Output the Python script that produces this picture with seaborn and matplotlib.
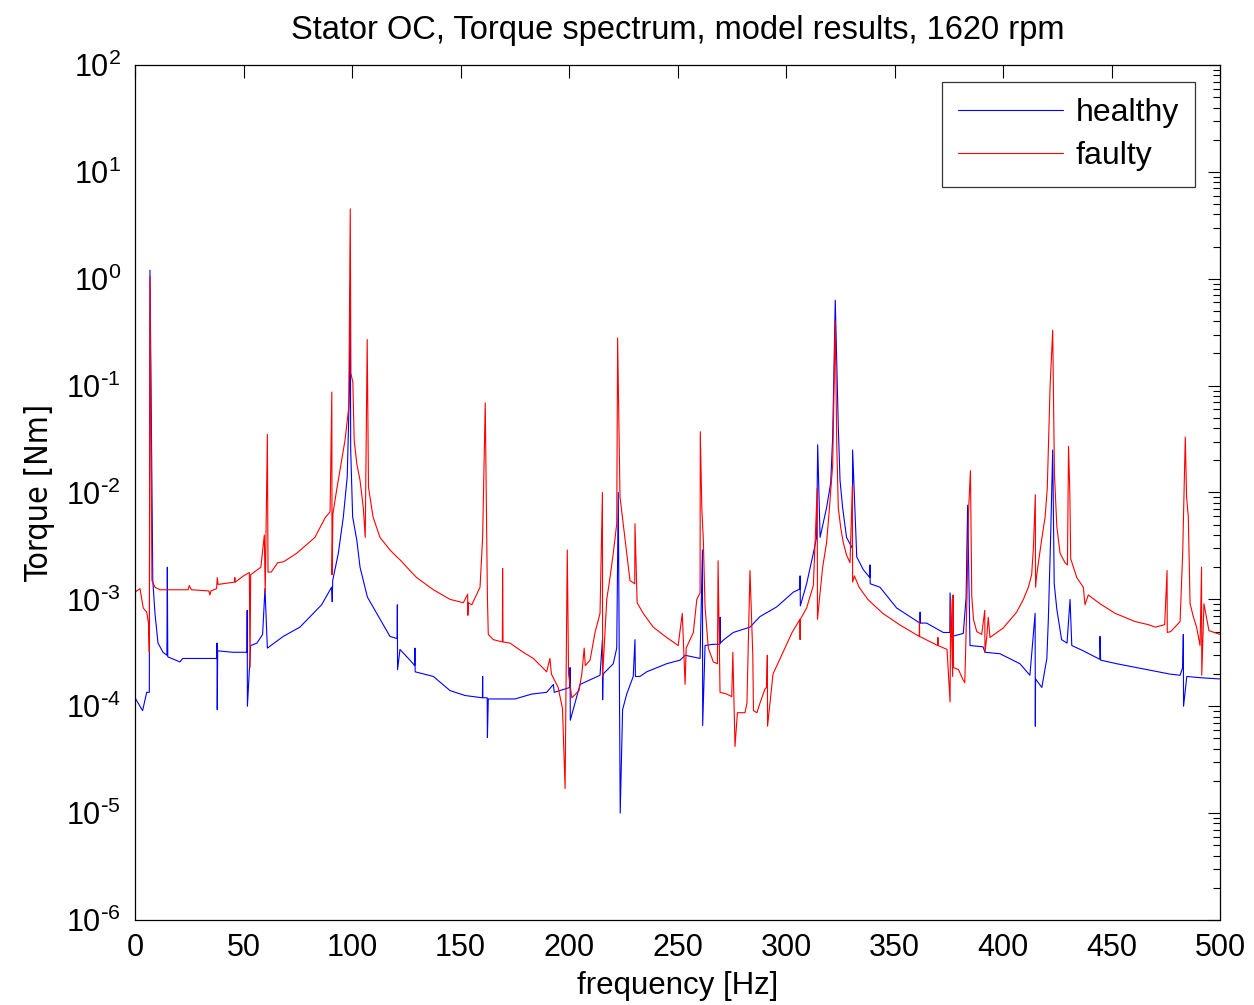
import matplotlib
matplotlib.use("Agg")
import matplotlib.pyplot as plt
import matplotlib.ticker as mticker
import numpy as np
import pandas as pd
import seaborn as sns

# Healthy machine torque spectrum (frequency in Hz, amplitude in Nm)
healthy_freq = [
    0.0, 3.5, 5.4, 6.6, 6.9, 8.2, 9.2, 10.6, 12.9, 14.7, 14.9, 15.1, 20.7, 22.0,
    37.6, 37.8, 37.9, 38.1, 45.0, 51.6, 51.7, 51.8, 53.3, 56.2, 58.8, 59.9, 61.0,
    68.3, 76.0, 86.0, 90.6, 90.9, 91.1, 93.7, 96.0, 97.8, 98.8, 99.2, 99.4, 100.3,
    102.2, 103.7, 107.1, 111.4, 117.5, 120.8, 120.9, 121.0, 122.1, 126.7, 128.9,
    129.0, 129.1, 137.5, 145.2, 152.1, 160.1, 160.2, 160.3, 162.3, 162.4, 162.8,
    175.1, 182.8, 189.7, 192.8, 193.2, 200.4, 200.5, 200.6, 205.1, 214.3, 215.4,
    215.5, 215.7, 220.4, 222.0, 222.7, 223.6, 224.7, 226.6, 229.6, 230.4, 230.6,
    232.7, 235.8, 245.0, 251.2, 253.5, 260.4, 261.5, 261.6, 262.7, 266.4, 269.5,
    269.6, 269.7, 271.4, 275.7, 283.4, 288.0, 295.7, 303.4, 306.4, 306.5, 306.6,
    309.5, 312.6, 314.1, 314.6, 315.7, 318.7, 320.6, 321.5, 322.7, 324.1, 324.9,
    326.1, 327.9, 330.6, 330.7, 332.6, 335.6, 338.6, 338.7, 338.8, 343.3, 351.0,
    357.1, 361.7, 361.8, 361.9, 364.8, 371.0, 372.5, 375.5, 375.6, 376.4, 381.7,
    383.0, 383.7, 384.8, 390.8, 391.7, 398.6, 407.8, 412.4, 414.8, 414.9, 415.0,
    417.9, 420.2, 420.9, 422.0, 422.9, 423.6, 424.8, 427.0, 429.5, 430.9, 431.7,
    437.0, 444.6, 444.7, 445.0, 452.4, 461.6, 476.9, 481.6, 482.8, 483.1, 483.2,
    484.7, 490.8, 500.0,
]
healthy_torque = [
    1.2e-4, 9.1e-5, 1.35e-4, 1.35e-4, 1.2, 1.5e-3, 7.4e-4, 3.9e-4, 3.2e-4, 3.0e-4, 2.0e-3, 2.9e-4, 2.6e-4, 2.8e-4,
    2.8e-4, 3.9e-4, 9.3e-5, 3.3e-4, 3.2e-4, 3.2e-4, 7.9e-4, 1.0e-4, 3.7e-4, 3.9e-4, 4.7e-4, 1.26e-3, 3.5e-4,
    4.5e-4, 5.5e-4, 8.9e-4, 1.3e-3, 9.5e-4, 1.5e-3, 2.7e-3, 5.9e-3, 1.4e-2, 9.1e-2, 0.87, 2.5e-2, 5.9e-3,
    3.6e-3, 2.0e-3, 1.05e-3, 7.4e-4, 4.5e-4, 4.3e-4, 8.9e-4, 2.2e-4, 3.4e-4, 2.7e-4, 2.4e-4,
    3.5e-4, 2.1e-4, 1.9e-4, 1.4e-4, 1.26e-4, 1.2e-4, 1.9e-4, 1.2e-4, 1.2e-4, 5.1e-5, 1.17e-4,
    1.17e-4, 1.3e-4, 1.35e-4, 1.6e-4, 1.35e-4, 1.5e-4, 2.3e-4, 7.4e-5, 1.6e-4, 1.95e-4, 4.2e-4,
    1.15e-4, 2.0e-4, 2.5e-4, 3.5e-4, 1.0e-2, 1.0e-5, 9.3e-5, 1.3e-4, 1.9e-4, 4.2e-4, 1.9e-4,
    1.9e-4, 2.1e-4, 2.5e-4, 2.7e-4, 3.0e-4, 2.8e-4, 2.9e-3, 6.6e-5, 3.7e-4, 3.8e-4, 3.8e-4,
    6.8e-4, 3.9e-4, 4.2e-4, 4.9e-4, 5.5e-4, 6.9e-4, 8.5e-4, 1.17e-3, 1.25e-3, 1.66e-3, 8.7e-4,
    1.4e-3, 2.7e-3, 3.8e-3, 2.8e-2, 3.8e-3, 7.2e-3, 1.23e-2, 3.3e-2, 0.63, 4.1e-2, 1.3e-2,
    7.2e-3, 3.8e-3, 3.0e-3, 2.5e-2, 2.5e-3, 1.9e-3, 1.6e-3, 2.1e-3, 1.4e-3, 1.3e-3, 8.3e-4,
    6.9e-4, 6.0e-4, 7.6e-4, 6.0e-4, 6.0e-4, 5.1e-4, 4.9e-4, 4.9e-4, 1.15e-3, 4.5e-4, 4.8e-4,
    1.05e-3, 7.6e-3, 3.7e-4, 3.6e-4, 3.2e-4, 3.1e-4, 2.5e-4, 1.95e-4, 7.4e-4, 6.5e-5, 1.8e-4,
    1.5e-4, 2.8e-4, 6.5e-4, 4.2e-3, 2.5e-2, 1.4e-3, 8.1e-4, 4.2e-4, 3.9e-4, 1.0e-3, 3.7e-4,
    3.3e-4, 2.75e-4, 4.5e-4, 2.7e-4, 2.5e-4, 2.3e-4, 2.0e-4, 1.95e-4, 2.3e-4, 4.7e-4, 1.0e-4,
    1.9e-4, 1.85e-4, 1.8e-4,
]

# Machine with stator open-circuit fault
faulty_freq = [
    0.0, 2.3, 3.8, 5.4, 6.2, 6.6, 6.9, 7.8, 9.2, 11.5, 24.5, 25.0, 26.0, 34.0, 34.5,
    35.0, 37.6, 37.9, 38.3, 45.8, 46.0, 46.2, 50.0, 52.7, 53.0, 53.3, 58.0, 59.6, 60.0,
    61.0, 61.3, 62.8, 65.7, 68.5, 74.5, 82.9, 87.6, 89.9, 90.7, 90.8, 91.2, 92.9,
    95.2, 96.8, 98.5, 99.2, 99.5, 100.4, 101.0, 102.2, 103.7, 105.2, 106.1, 107.0,
    107.6, 109.7, 112.9, 117.5, 120.6, 122.1, 126.7, 129.8, 137.5, 145.2, 151.3,
    153.3, 153.4, 153.6, 155.2, 159.0, 160.2, 161.4, 162.4, 162.8, 165.1, 169.3,
    169.4, 169.6, 172.8, 178.9, 183.6, 189.7, 191.2, 191.9, 195.0, 197.0, 198.2,
    199.2, 199.8, 201.3, 204.6, 205.9, 207.0, 207.5, 209.7, 212.0, 214.3, 215.4,
    215.5, 217.4, 218.9, 220.4, 222.0, 222.4, 223.5, 225.0, 226.6, 228.1, 230.3,
    230.4, 231.4, 234.2, 238.8, 245.0, 250.3, 252.2, 253.5, 254.0, 257.3, 258.9,
    260.4, 260.5, 261.2, 261.9, 262.7, 264.2, 266.5, 268.4, 268.7, 269.6, 272.7,
    275.0, 275.5, 276.5, 277.6, 281.1, 282.0, 283.4, 284.7, 285.0, 286.6, 288.0,
    290.3, 291.0, 291.4, 291.5, 294.0, 298.6, 302.8, 306.4, 306.5, 306.6, 309.5,
    312.6, 314.4, 314.5, 315.5, 316.9, 318.7, 319.8, 321.5, 322.7, 323.4, 324.1,
    325.2, 326.4, 327.9, 329.5, 330.6, 330.7, 331.5, 333.7, 337.7, 344.6, 352.3,
    356.9, 361.4, 361.5, 361.6, 364.5, 369.9, 370.0, 370.1, 374.2, 375.6, 375.9,
    376.8, 377.0, 377.2, 379.5, 381.4, 382.4, 383.4, 384.1, 385.0, 385.6, 386.4,
    387.9, 390.2, 391.6, 391.7, 392.5, 393.2, 394.0, 400.1, 406.3, 409.4, 411.7,
    413.2, 414.0, 414.9, 415.0, 415.5, 416.3, 417.8, 419.4, 420.4, 421.7, 422.9,
    423.7, 424.8, 426.3, 428.6, 429.7, 430.2, 430.8, 431.2, 434.0, 437.0, 437.8,
    439.3, 444.7, 451.7, 460.9, 467.0, 470.2, 474.5, 475.6, 475.7, 477.3, 481.6,
    482.8, 484.0, 484.6, 485.4, 486.2, 487.7, 489.2, 490.8, 491.5, 491.6, 492.6,
    494.9, 500.0,
]
faulty_torque = [
    1.17e-3, 1.26e-3, 8.3e-4, 7.6e-4, 6.0e-4, 3.2e-4, 1.05, 1.5e-3, 1.3e-3, 1.23e-3, 1.23e-3, 1.35e-3, 1.23e-3, 1.2e-3, 1.1e-3,
    1.2e-3, 1.26e-3, 1.6e-3, 1.38e-3, 1.45e-3, 1.6e-3, 1.45e-3, 1.66e-3, 1.78e-3, 2.3e-4, 1.7e-3, 2.0e-3, 4.0e-3, 1.15e-3,
    3.5e-2, 1.8e-3, 1.8e-3, 2.2e-3, 2.25e-3, 2.7e-3, 3.8e-3, 5.8e-3, 6.6e-3, 8.7e-2, 1.7e-3, 6.3e-3, 1.05e-2,
    2.0e-2, 3.1e-2, 6.3e-2, 4.5, 0.13, 0.107, 3.1e-2, 1.86e-2, 1.3e-2, 7.2e-3, 3.8e-3, 0.27,
    1.12e-2, 5.9e-3, 3.8e-3, 2.9e-3, 2.5e-3, 2.35e-3, 1.86e-3, 1.6e-3, 1.23e-3, 1.0e-3, 9.3e-4,
    1.12e-3, 7.1e-4, 9.3e-4, 8.9e-4, 1.3e-3, 3.8e-3, 6.9e-2, 1.05e-3, 4.7e-4, 4.2e-4, 4.0e-4,
    1.95e-3, 4.0e-4, 3.9e-4, 3.2e-4, 2.8e-4, 2.1e-4, 2.8e-4, 2.0e-4, 1.5e-4, 9.5e-5, 1.7e-5,
    2.9e-3, 2.0e-4, 1.2e-4, 1.4e-4, 2.0e-4, 3.5e-4, 2.4e-4, 2.7e-4, 4.9e-4, 7.4e-4, 1.0e-2,
    1.9e-4, 1.0e-3, 1.6e-3, 2.7e-3, 5.1e-3, 0.28, 9.1e-3, 5.1e-3, 2.7e-3, 1.5e-3, 1.4e-3,
    5.1e-3, 9.3e-4, 7.4e-4, 5.5e-4, 4.4e-4, 3.7e-4, 7.4e-4, 1.6e-4, 3.5e-4, 4.9e-4, 1.0e-3,
    1.15e-3, 3.7e-2, 7.2e-3, 3.6e-3, 8.5e-4, 3.5e-4, 2.6e-4, 2.5e-4, 2.3e-3, 1.35e-4, 1.3e-4,
    1.23e-4, 3.2e-4, 4.2e-5, 8.7e-5, 8.7e-5, 1.07e-4, 1.86e-3, 3.0e-4, 9.1e-5, 8.7e-5, 1.07e-4,
    1.45e-4, 1.5e-4, 3.0e-4, 6.5e-5, 2.0e-4, 3.2e-4, 4.9e-4, 6.5e-4, 4.2e-4, 6.5e-4, 8.3e-4,
    1.35e-3, 1.1e-2, 6.5e-4, 1.05e-3, 2.0e-3, 3.4e-3, 6.3e-3, 1.8e-2, 0.4, 2.7e-2, 7.2e-3,
    4.7e-3, 3.4e-3, 2.6e-3, 2.2e-3, 1.17e-2, 1.45e-3, 1.66e-3, 1.3e-3, 1.0e-3, 7.4e-4, 5.8e-4,
    5.1e-4, 4.5e-4, 6.3e-4, 4.5e-4, 4.2e-4, 3.7e-4, 4.4e-4, 3.7e-4, 3.4e-4, 1.1e-4, 1.0e-3,
    1.9e-4, 1.1e-3, 2.3e-4, 2.2e-4, 1.8e-4, 1.66e-4, 1.05e-3, 6.5e-3, 1.6e-2, 1.07e-3, 6.5e-4,
    5.0e-4, 4.7e-4, 7.9e-4, 3.2e-4, 4.4e-4, 6.8e-4, 4.4e-4, 5.4e-4, 7.6e-4, 1.0e-3, 1.3e-3,
    1.7e-3, 3.0e-3, 9.5e-3, 1.3e-3, 1.66e-3, 2.2e-3, 3.6e-3, 5.9e-3, 1.1e-2, 9.8e-2, 0.33,
    1.5e-2, 4.8e-3, 2.7e-3, 2.2e-3, 2.1e-3, 2.7e-2, 1.0e-2, 2.4e-3, 1.6e-3, 1.3e-3, 8.9e-4,
    1.1e-3, 9.1e-4, 7.4e-4, 6.2e-4, 5.8e-4, 5.5e-4, 5.8e-4, 1.86e-3, 4.9e-4, 5.0e-4, 6.2e-4,
    2.7e-3, 3.3e-2, 9.1e-3, 5.9e-3, 9.1e-4, 6.9e-4, 5.5e-4, 3.7e-4, 2.0e-3, 1.95e-4, 9.1e-4,
    5.1e-4, 4.7e-4,
]

title_text = "Stator OC, Torque spectrum, model results, 1620 rpm"
x_label = "frequency [Hz]"
y_label = "Torque [Nm]"
x_ticks = [0, 50, 100, 150, 200, 250, 300, 350, 400, 450, 500]
y_decades = [1e-6, 1e-5, 1e-4, 1e-3, 1e-2, 1e-1, 1e0, 1e1, 1e2]

healthy = pd.DataFrame({"f": healthy_freq, "T": healthy_torque})
faulty = pd.DataFrame({"f": faulty_freq, "T": faulty_torque})

sns.set_theme(style="white")
plt.rcParams["font.family"] = ["Liberation Sans", "DejaVu Sans"]
plt.rcParams["mathtext.default"] = "regular"
plt.rcParams["axes.unicode_minus"] = False
for key in ["text.color", "axes.labelcolor", "xtick.color", "ytick.color"]:
    plt.rcParams[key] = "black"

fig = plt.figure(figsize=(12.54, 10.05), dpi=100)
ax = fig.add_axes([135 / 1254, 1 - 920 / 1005, (1220 - 135) / 1254, (920 - 65) / 1005])

sns.lineplot(data=healthy, x="f", y="T", ax=ax, color="#0000ff", lw=0.8,
             estimator=None, sort=False, label="healthy")
sns.lineplot(data=faulty, x="f", y="T", ax=ax, color="#ff0000", lw=0.8,
             estimator=None, sort=False, label="faulty")

ax.set_yscale("log")
ax.set_xlim(0, 500)
ax.set_ylim(1e-6, 1e2)
ax.set_xticks(x_ticks)

# decade ticks only inside the plotted range; minor ticks at 2..9 of each decade
ax.yaxis.set_major_locator(mticker.FixedLocator(y_decades))
minor_ticks = [m * d for d in y_decades[:-1] for m in range(2, 10)]
ax.yaxis.set_minor_locator(mticker.FixedLocator(minor_ticks))
ax.yaxis.set_minor_formatter(mticker.NullFormatter())


def decade_label(value, pos):
    exp = int(round(np.log10(value)))
    if exp < 0:
        return r"$10^{\text{-}%d}$" % (-exp)
    return r"$10^{%d}$" % exp


ax.yaxis.set_major_formatter(mticker.FuncFormatter(decade_label))

ax.tick_params(axis="both", which="both", direction="in", top=True, right=True,
               labelsize=22, width=0.8)
ax.tick_params(axis="x", which="major", length=9, pad=9)
ax.tick_params(axis="y", which="major", length=9, pad=10)
ax.tick_params(axis="y", which="minor", length=5)
for sp in ax.spines.values():
    sp.set_color("black")
    sp.set_linewidth(0.9)

ax.set_title(title_text, fontsize=23.5, pad=19)
ax.set_xlabel(x_label, fontsize=22.5, labelpad=6)
ax.set_ylabel(y_label, fontsize=23, labelpad=8,
              family=["DejaVu Sans"], fontstretch="condensed")

leg = ax.legend(loc="upper right", fontsize=23, frameon=True, fancybox=False,
                handlelength=3.3, handletextpad=0.4, borderpad=0.5,
                labelspacing=0.4, borderaxespad=0.0,
                bbox_to_anchor=(0.977, 0.980))
leg.get_frame().set_edgecolor("black")
leg.get_frame().set_linewidth(0.9)

fig.savefig("out.png", dpi=100, facecolor="white")
